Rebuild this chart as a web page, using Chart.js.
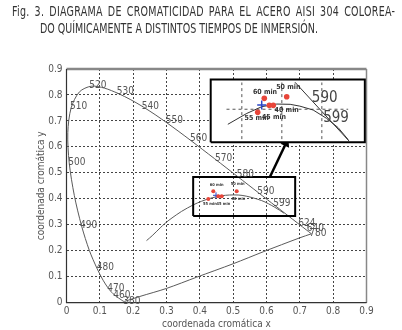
<!DOCTYPE html>
<html>
<head>
<meta charset="utf-8">
<script src="https://cdn.jsdelivr.net/npm/chart.js@4.4.0/dist/chart.umd.min.js"></script>
<style>
  body { margin: 0; background: #fff; }
  #wrap { position: relative; width: 402px; height: 330px; }
  canvas { position: absolute; left: 0; top: 0; }
  .title { position: absolute; font-family: "Liberation Sans Narrow", "DejaVu Sans Condensed", "Liberation Sans", sans-serif;
           font-size: 14px; color: #333; white-space: nowrap; transform-origin: 0 0; }
</style>
</head>
<body>
<div id="wrap">
  <canvas id="cieChart" width="402" height="330"></canvas>
  <div class="title" id="t1" style="left:12px; top:3px;">Fig. 3. DIAGRAMA DE CROMATICIDAD PARA EL ACERO AISI 304 COLOREA-</div>
  <div class="title" id="t2" style="left:40px; top:20px;">DO QUÍMICAMENTE A DISTINTOS TIEMPOS DE INMERSIÓN.</div>
</div>
<script>
// squeeze the title like the printed caption (first line is justified)
var t1 = document.getElementById('t1'), t2 = document.getElementById('t2');
var titleScale = 278 / t2.offsetWidth;
t1.style.transform = 'scaleX(' + titleScale + ')';
t2.style.transform = 'scaleX(' + titleScale + ')';
var extra = 383 / titleScale - t1.offsetWidth;
var chars = t1.textContent.length;
var gaps = t1.textContent.split(' ').length - 1;
t1.style.letterSpacing = (extra * 0.5 / chars) + 'px';
t1.style.wordSpacing = (extra * 0.5 / gaps) + 'px';

// spectral locus (x, y)
var locusX = [0.1741, 0.1733, 0.1714, 0.1690, 0.1644, 0.1566, 0.1440, 0.1355, 0.1241, 0.1096, 0.0913, 0.0687, 0.0454, 0.0235, 0.0082, 0.0039, 0.0139, 0.0389, 0.0743, 0.1142, 0.1547, 0.1929, 0.2296, 0.2658, 0.3016, 0.3373, 0.3731, 0.4087, 0.4441, 0.4788, 0.5125, 0.5448, 0.5752, 0.6029, 0.6270, 0.6658, 0.6915, 0.7079, 0.7190, 0.7260, 0.7347];
var locusY = [0.0050, 0.0048, 0.0051, 0.0069, 0.0109, 0.0177, 0.0297, 0.0399, 0.0578, 0.0868, 0.1327, 0.2007, 0.2950, 0.4127, 0.5384, 0.6548, 0.7502, 0.8120, 0.8338, 0.8262, 0.8059, 0.7816, 0.7543, 0.7243, 0.6923, 0.6589, 0.6245, 0.5896, 0.5547, 0.5202, 0.4866, 0.4544, 0.4242, 0.3965, 0.3725, 0.3340, 0.3083, 0.2920, 0.2809, 0.2740, 0.2653];

// line of purples
var purpleX = [0.1741, 0.22, 0.30, 0.39, 0.50, 0.59, 0.70, 0.7347];
var purpleY = [0.0050, 0.024, 0.055, 0.098, 0.150, 0.196, 0.250, 0.2653];

// planckian locus
var planckX = [0.240, 0.257, 0.281, 0.296, 0.3135, 0.3451, 0.3805, 0.4053, 0.4369, 0.4770, 0.5267, 0.5857, 0.6251, 0.6528];
var planckY = [0.239, 0.258, 0.288, 0.306, 0.3236, 0.3516, 0.3768, 0.3907, 0.4041, 0.4137, 0.4133, 0.3931, 0.3674, 0.3444];

// wavelength labels
var waveText = ['380', '460', '470', '480', '490', '500', '510', '520', '530', '540', '550', '560', '570', '580', '590', '599', '624', '640', '780'];
var waveX = [0.1704, 0.1404, 0.1224, 0.0906, 0.0405, 0.0054, 0.0105, 0.0684, 0.1506, 0.2256, 0.2976, 0.3705, 0.4455, 0.5106, 0.5724, 0.6204, 0.6954, 0.7206, 0.7284];
var waveY = [0.004, 0.0297, 0.0554, 0.1348, 0.299, 0.5406, 0.755, 0.838, 0.8125, 0.757, 0.701, 0.633, 0.556, 0.494, 0.430, 0.3827, 0.3057, 0.2865, 0.267];

// samples
var sampleText = ['55 min', '60 min', '45 min', '40 min', '50 min'];
var smallPtX = [0.4254, 0.4404, 0.4554, 0.4656, 0.5106];
var smallPtY = [0.399, 0.4289, 0.4097, 0.4097, 0.4289];
var smallLblX = [0.4305, 0.4506, 0.4704, 0.5154, 0.5136];
var smallLblY = [0.380, 0.4544, 0.380, 0.4005, 0.457];
var smallRefX = [0.4485];
var smallRefY = [0.4136];

// zoomed inset
var bigPtX = [0.5736, 0.5934, 0.6084, 0.6204, 0.6606];
var bigPtY = [0.733, 0.787, 0.760, 0.760, 0.793];
var bigLblX = [0.5706, 0.5955, 0.6225, 0.6606, 0.6654];
var bigLblY = [0.712, 0.8125, 0.716, 0.742, 0.829];
var bigRefX = [0.5856];
var bigRefY = [0.761];
var insetCurveX = [0.484, 0.541, 0.586, 0.631, 0.671, 0.700, 0.740, 0.780, 0.815, 0.845];
var insetCurveY = [0.687, 0.729, 0.755, 0.765, 0.764, 0.757, 0.742, 0.710, 0.674, 0.628];
var insetLocusX = [0.6855, 0.848];
var insetLocusY = [0.849, 0.622];
var insetText = ['590', '599'];
var insetTextX = [0.736, 0.770];
var insetTextY = [0.788, 0.710];
var insetGridX = [0.526, 0.646, 0.766];
var insetGridY = [0.745];

// boxes: [left, right, bottom, top]
var smallBox = [0.380, 0.686, 0.334, 0.484];
var bigBox = [0.4326, 0.895, 0.618, 0.860];
var arrowX = [0.6105, 0.6585];
var arrowY = [0.4852, 0.6139];

function pts(xs, ys) {
    var out = [];
    for (var i = 0; i < xs.length; i++) out.push({x: xs[i], y: ys[i]});
    return out;
}
function rect(b) {
    return [{x: b[0], y: b[2]}, {x: b[1], y: b[2]}, {x: b[1], y: b[3]}, {x: b[0], y: b[3]}, {x: b[0], y: b[2]}];
}

var NARROW = '"Liberation Sans Narrow", "DejaVu Sans Condensed", "Liberation Sans", sans-serif';
var lineGray = '#5a5a5a';

var insetGridData = [];
insetGridX.forEach(function (gx) {
    insetGridData.push({x: gx, y: bigBox[2] + 0.012}, {x: gx, y: bigBox[3] - 0.012}, {x: NaN, y: NaN});
});
insetGridY.forEach(function (gy) {
    insetGridData.push({x: 0.48, y: gy}, {x: 0.845, y: gy}, {x: NaN, y: NaN});
});

// texts drawn at data positions
var textPlugin = {
    id: 'texts',
    afterDatasetsDraw: function (chart) {
        var ctx = chart.ctx, sx = chart.scales.x, sy = chart.scales.y;
        ctx.save();
        ctx.textBaseline = 'middle';
        ctx.textAlign = 'left';
        ctx.fillStyle = '#555';
        ctx.font = '10px ' + NARROW;
        for (var i = 0; i < waveText.length; i++) {
            ctx.fillText(waveText[i], sx.getPixelForValue(waveX[i]), sy.getPixelForValue(waveY[i]));
        }
        ctx.textAlign = 'center';
        ctx.fillStyle = '#333';
        ctx.font = 'bold 4px ' + NARROW;
        for (i = 0; i < sampleText.length; i++) {
            ctx.fillText(sampleText[i], sx.getPixelForValue(smallLblX[i]), sy.getPixelForValue(smallLblY[i]));
        }
        ctx.font = 'bold 7px ' + NARROW;
        for (i = 0; i < sampleText.length; i++) {
            ctx.fillText(sampleText[i], sx.getPixelForValue(bigLblX[i]), sy.getPixelForValue(bigLblY[i]));
        }
        ctx.textAlign = 'left';
        ctx.fillStyle = '#444';
        ctx.font = '15px ' + NARROW;
        for (i = 0; i < insetText.length; i++) {
            ctx.fillText(insetText[i], sx.getPixelForValue(insetTextX[i]), sy.getPixelForValue(insetTextY[i]));
        }
        ctx.restore();
    }
};

// frame of the axes box, solid, over the dashed grid
var framePlugin = {
    id: 'frame',
    beforeDatasetsDraw: function (chart) {
        var ctx = chart.ctx, a = chart.chartArea;
        ctx.save();
        ctx.strokeStyle = '#888';
        ctx.lineWidth = 2.5;
        ctx.beginPath(); ctx.moveTo(a.left, a.top); ctx.lineTo(a.right, a.top); ctx.stroke();
        ctx.lineWidth = 1.5;
        ctx.beginPath(); ctx.moveTo(a.right, a.top); ctx.lineTo(a.right, a.bottom); ctx.stroke();
        ctx.strokeStyle = '#333';
        ctx.lineWidth = 1.2;
        ctx.beginPath(); ctx.moveTo(a.left, a.top); ctx.lineTo(a.left, a.bottom); ctx.lineTo(a.right, a.bottom); ctx.stroke();
        ctx.restore();
    }
};

var ctx = document.getElementById('cieChart').getContext('2d');
var myChart = new Chart(ctx, {
    type: 'scatter',
    data: {
        datasets: [
            // lower order is drawn on top
            { data: pts(insetCurveX, insetCurveY), showLine: true, borderColor: '#333', borderWidth: 1, pointRadius: 0, order: 1 },
            { data: pts(insetLocusX, insetLocusY), showLine: true, borderColor: '#333', borderWidth: 1, pointRadius: 0, order: 1 },
            { data: pts(bigPtX, bigPtY), backgroundColor: '#e8463a', borderWidth: 0, pointRadius: 2.8, order: 0 },
            { data: pts(bigRefX, bigRefY), pointStyle: 'cross', borderColor: '#2a46c8', borderWidth: 1.5, pointRadius: 4.5, order: 0 },
            { data: insetGridData, showLine: true, spanGaps: false, borderColor: '#555', borderWidth: 1, borderDash: [3, 3], pointRadius: 0, order: 2 },
            { data: rect(bigBox), showLine: true, fill: 'shape', backgroundColor: '#fff', borderColor: '#000', borderWidth: 2, pointRadius: 0, order: 3 },
            { data: pts(arrowX, arrowY), showLine: true, borderColor: '#000', borderWidth: 2.5, pointRadius: [0, 3], pointStyle: 'triangle', rotation: 26, backgroundColor: '#000', order: 4 },
            { data: pts(smallPtX, smallPtY), backgroundColor: '#e8463a', borderWidth: 0, pointRadius: 2, order: 5 },
            { data: pts(smallRefX, smallRefY), pointStyle: 'cross', borderColor: '#2a46c8', borderWidth: 1, pointRadius: 3, order: 5 },
            { data: rect(smallBox), showLine: true, borderColor: '#000', borderWidth: 2, pointRadius: 0, order: 6 },
            { data: pts(locusX, locusY), showLine: true, borderColor: lineGray, borderWidth: 1, pointRadius: 0, tension: 0.3, order: 7 },
            { data: pts(purpleX, purpleY), showLine: true, borderColor: lineGray, borderWidth: 1, pointRadius: 0, tension: 0.3, order: 7 },
            { data: pts(planckX, planckY), showLine: true, borderColor: lineGray, borderWidth: 1, pointRadius: 0, tension: 0.3, order: 7 }
        ]
    },
    options: {
        responsive: false,
        animation: false,
        devicePixelRatio: 1,
        layout: { padding: { left: 35, top: 69, right: 35.5, bottom: 0 } },
        plugins: { legend: { display: false }, tooltip: { enabled: false } },
        scales: {
            x: {
                min: 0, max: 0.9,
                afterFit: function (scale) { scale.height = 27.3; },
                ticks: { stepSize: 0.1, color: '#555', padding: 3, font: { family: NARROW, size: 10 },
                         callback: function (v) { return v === 0 ? '0' : v.toFixed(1); } },
                grid: { color: '#444', lineWidth: 1, drawTicks: false },
                border: { display: false, dash: [2, 2] },
                title: { display: true, text: 'coordenada cromática x', color: '#555', padding: 0, font: { family: NARROW, size: 10 } }
            },
            y: {
                min: 0, max: 0.9,
                afterFit: function (scale) { scale.width = 31.5; },
                ticks: { stepSize: 0.1, color: '#555', padding: 4, font: { family: NARROW, size: 10 },
                         callback: function (v) { return v === 0 ? '0' : v.toFixed(1); } },
                grid: { color: '#444', lineWidth: 1, drawTicks: false },
                border: { display: false, dash: [2, 2] },
                title: { display: true, text: 'coordenada cromática y', color: '#555', padding: 0, font: { family: NARROW, size: 10 } }
            }
        }
    },
    plugins: [framePlugin, textPlugin]
});
</script>
</body>
</html>
